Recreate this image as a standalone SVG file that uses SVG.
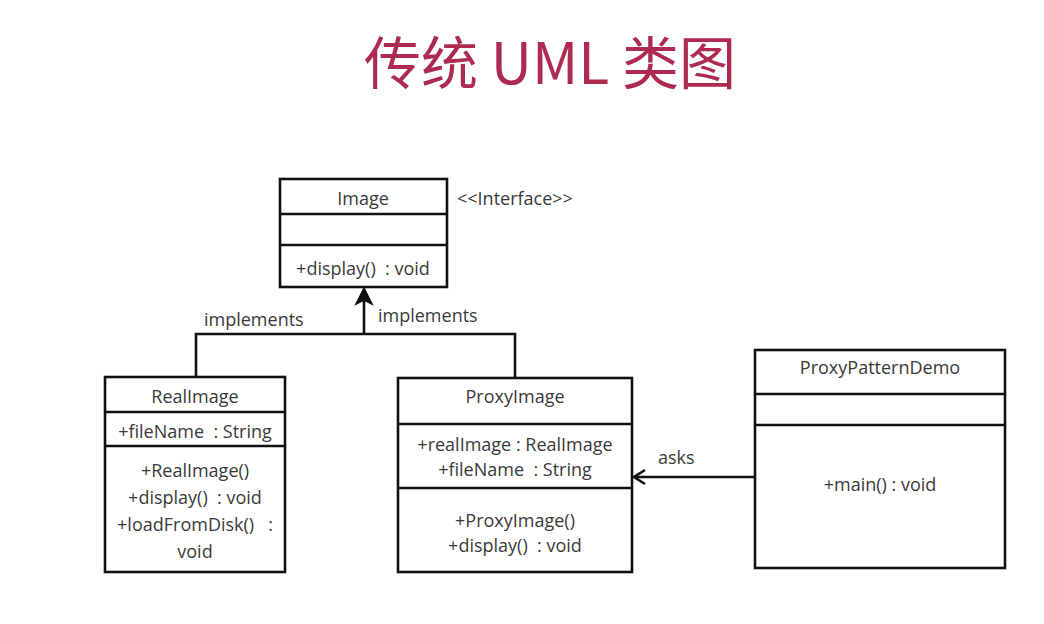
<svg xmlns="http://www.w3.org/2000/svg" width="1044" height="624" viewBox="0 0 1044 624">
<style>
.box{fill:#fff;stroke:#111;stroke-width:2.6}
.sep{stroke:#111;stroke-width:2.6}
.t{font-family:"Open Sans","Liberation Sans",sans-serif;font-size:18px;fill:#3a3a3a;text-anchor:middle;white-space:pre}
.l{font-family:"Open Sans","Liberation Sans",sans-serif;font-size:18px;fill:#3a3a3a;white-space:pre}
.c{fill:none;stroke:#111;stroke-width:2.6}
</style>
<rect width="1044" height="624" fill="#fff"/>
<text x="550" y="84" text-anchor="middle" font-family="'Noto Sans CJK SC','Open Sans',sans-serif" font-size="57" fill="#ad2a50">传统 UML 类图</text>

<g id="connectors">
<polyline class="c" points="196,377 196,334 515,334 515,378"/>
<line class="c" x1="364" y1="334" x2="364" y2="300"/>
<polygon points="364,288 356,304 364,300 372,304" fill="#111" stroke="#111" stroke-width="1.5"/>
<line class="c" x1="755" y1="477" x2="634" y2="477"/>
<path d="M645,470 L634,477 L645,484" fill="none" stroke="#111" stroke-width="2.6"/>
<text class="l" x="204" y="326">implements</text>
<text class="l" x="378" y="322">implements</text>
<text class="l" x="658" y="464">asks</text>
</g>

<g id="Image">
<rect class="box" x="280" y="179" width="167" height="108"/>
<line class="sep" x1="280" y1="214" x2="447" y2="214"/>
<line class="sep" x1="280" y1="245" x2="447" y2="245"/>
<text class="t" x="363" y="205">Image</text>
<text class="t" x="363" y="275">+display()  : void</text>
<text class="l" x="457" y="205" fill="#555">&lt;&lt;Interface&gt;&gt;</text>
</g>

<g id="RealImage">
<rect class="box" x="105" y="377" width="180" height="195"/>
<line class="sep" x1="105" y1="412" x2="285" y2="412"/>
<line class="sep" x1="105" y1="446" x2="285" y2="446"/>
<text class="t" x="195" y="403">RealImage</text>
<text class="t" x="195" y="438">+fileName  : String</text>
<text class="t" x="195" y="477">+RealImage()</text>
<text class="t" x="195" y="504">+display()  : void</text>
<text class="t" x="195" y="531">+loadFromDisk()   :</text>
<text class="t" x="195" y="558">void</text>
</g>

<g id="ProxyImage">
<rect class="box" x="398" y="378" width="234" height="194"/>
<line class="sep" x1="398" y1="424" x2="632" y2="424"/>
<line class="sep" x1="398" y1="488" x2="632" y2="488"/>
<text class="t" x="515" y="403">ProxyImage</text>
<text class="t" x="515" y="451">+realImage : RealImage</text>
<text class="t" x="515" y="476">+fileName  : String</text>
<text class="t" x="515" y="527">+ProxyImage()</text>
<text class="t" x="515" y="552">+display()  : void</text>
</g>

<g id="ProxyPatternDemo">
<rect class="box" x="755" y="350" width="250" height="218"/>
<line class="sep" x1="755" y1="394" x2="1005" y2="394"/>
<line class="sep" x1="755" y1="425" x2="1005" y2="425"/>
<text class="t" x="880" y="374">ProxyPatternDemo</text>
<text class="t" x="880" y="491">+main() : void</text>
</g>
</svg>
